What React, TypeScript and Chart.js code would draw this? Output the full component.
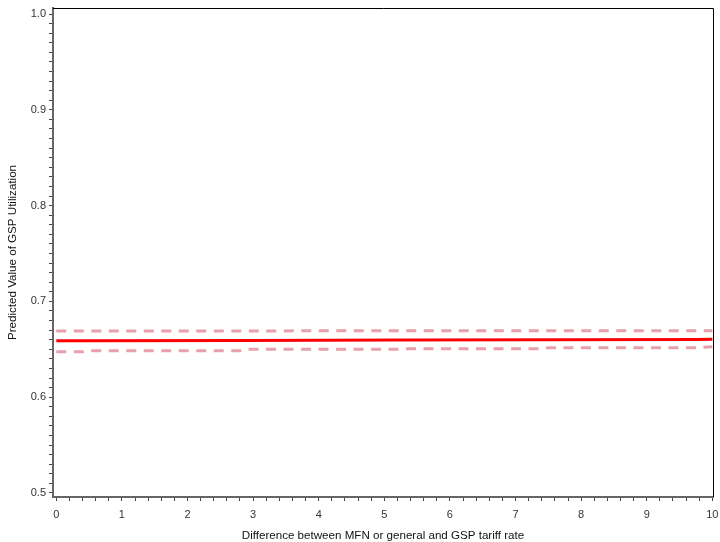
import React, { useEffect, useRef } from "react";
import { Chart, registerables } from "chart.js";

Chart.register(...registerables);

// x positions (tariff rate difference) and predicted values
const xValues = [0, 0.4, 0.5, 2.8, 2.9, 5.2, 5.3, 7.4, 7.5, 9.75, 10];
const predicted = [0.6588, 0.6589, 0.6589, 0.6592, 0.6593, 0.6596, 0.6596, 0.6599, 0.66, 0.6602, 0.6604];
const upperCL = [0.6692, 0.6692, 0.6692, 0.6692, 0.6692, 0.6693, 0.6693, 0.6693, 0.6693, 0.6694, 0.6694];
const lowerCL = [0.6475, 0.6475, 0.6485, 0.6485, 0.65, 0.65, 0.6506, 0.6506, 0.6517, 0.6517, 0.6527];

const xTickLabels = [0, 1, 2, 3, 4, 5, 6, 7, 8, 9, 10];
const yTickLabels = [0.5, 0.6, 0.7, 0.8, 0.9, 1.0];

const xTitle = "Difference between MFN or general and GSP tariff rate";
const yTitle = "Predicted Value of GSP Utilization";

const isLabelled = (v: number, list: number[]) => list.some((t) => Math.abs(t - v) < 1e-6);

export default function App() {
  const ref = useRef<HTMLCanvasElement>(null);
  useEffect(() => {
    if (!ref.current) return;
    const pts = (ys: number[]) => xValues.map((x, i) => ({ x, y: ys[i] }));
    const framePlugin = {
      id: "frame",
      afterDatasetsDraw(chart: any) {
        const { ctx, chartArea: a } = chart;
        ctx.save();
        ctx.strokeStyle = "#000";
        ctx.lineWidth = 1;
        ctx.beginPath();
        ctx.moveTo(a.left, a.top + 0.5);
        ctx.lineTo(a.right + 0.5, a.top + 0.5);
        ctx.lineTo(a.right + 0.5, a.bottom);
        ctx.stroke();
        ctx.restore();
      },
    };
    const font = { family: "'Liberation Sans', Arial, sans-serif", size: 11 };
    const chart = new Chart(ref.current, {
      type: "line",
      data: {
        datasets: [
          {
            label: "Upper",
            data: pts(upperCL),
            borderColor: "rgb(232,160,172)",
            borderWidth: 3,
            borderDash: [10, 7.5],
            pointRadius: 0,
            fill: false,
            tension: 0,
          },
          {
            label: "Lower",
            data: pts(lowerCL),
            borderColor: "rgb(232,160,172)",
            borderWidth: 3,
            borderDash: [10, 7.5],
            pointRadius: 0,
            fill: false,
            tension: 0,
          },
          {
            label: "Predicted",
            data: pts(predicted),
            borderColor: "#ff0000",
            borderWidth: 3,
            pointRadius: 0,
            fill: false,
            tension: 0,
          },
        ],
      },
      options: {
        animation: false,
        responsive: false,
        devicePixelRatio: 1,
        layout: { padding: { top: 8, right: 7, left: 0, bottom: 0 } },
        plugins: { legend: { display: false }, tooltip: { enabled: false } },
        scales: {
          x: {
            type: "linear",
            min: -0.05,
            max: 10.01,
            afterFit: (s: any) => {
              s.height = 45;
              s.paddingLeft = 0;
              s.paddingRight = 0;
            },
            border: { display: true, color: "#666", width: 2 },
            grid: { drawOnChartArea: false, drawTicks: true, tickLength: 4, tickColor: "#444", tickWidth: 1 },
            ticks: {
              stepSize: 0.2,
              includeBounds: false,
              autoSkip: false,
              maxRotation: 0,
              padding: 7,
              color: "#333",
              font,
              callback: (v: any) => (isLabelled(Number(v), xTickLabels) ? String(Math.round(Number(v))) : ""),
            },
            title: {
              display: true,
              text: xTitle,
              color: "#111",
              font: { ...font, size: 11.6 },
              padding: { top: 0, bottom: -1 },
            },
          },
          y: {
            type: "linear",
            min: 0.4958,
            max: 1.0063,
            afterFit: (s: any) => {
              s.width = 53;
              s.paddingTop = 0;
              s.paddingBottom = 0;
            },
            border: { display: true, color: "#666", width: 2 },
            grid: { drawOnChartArea: false, drawTicks: true, tickLength: 4, tickColor: "#444", tickWidth: 1 },
            ticks: {
              stepSize: 0.01,
              includeBounds: false,
              autoSkip: false,
              padding: 3,
              color: "#333",
              font,
              callback: (v: any) => (isLabelled(Number(v), yTickLabels) ? Number(v).toFixed(1) : ""),
            },
            title: {
              display: true,
              text: yTitle,
              color: "#111",
              font: { ...font, size: 11.6 },
              padding: { top: 6, bottom: 0 },
            },
          },
        },
      },
      plugins: [framePlugin],
    } as any);
    return () => chart.destroy();
  }, []);
  return (
    <div style={{ position: "fixed", left: 0, top: 0, width: 720, height: 542, background: "#fff" }}>
      <canvas ref={ref} width={720} height={542} style={{ display: "block" }} />
    </div>
  );
}
